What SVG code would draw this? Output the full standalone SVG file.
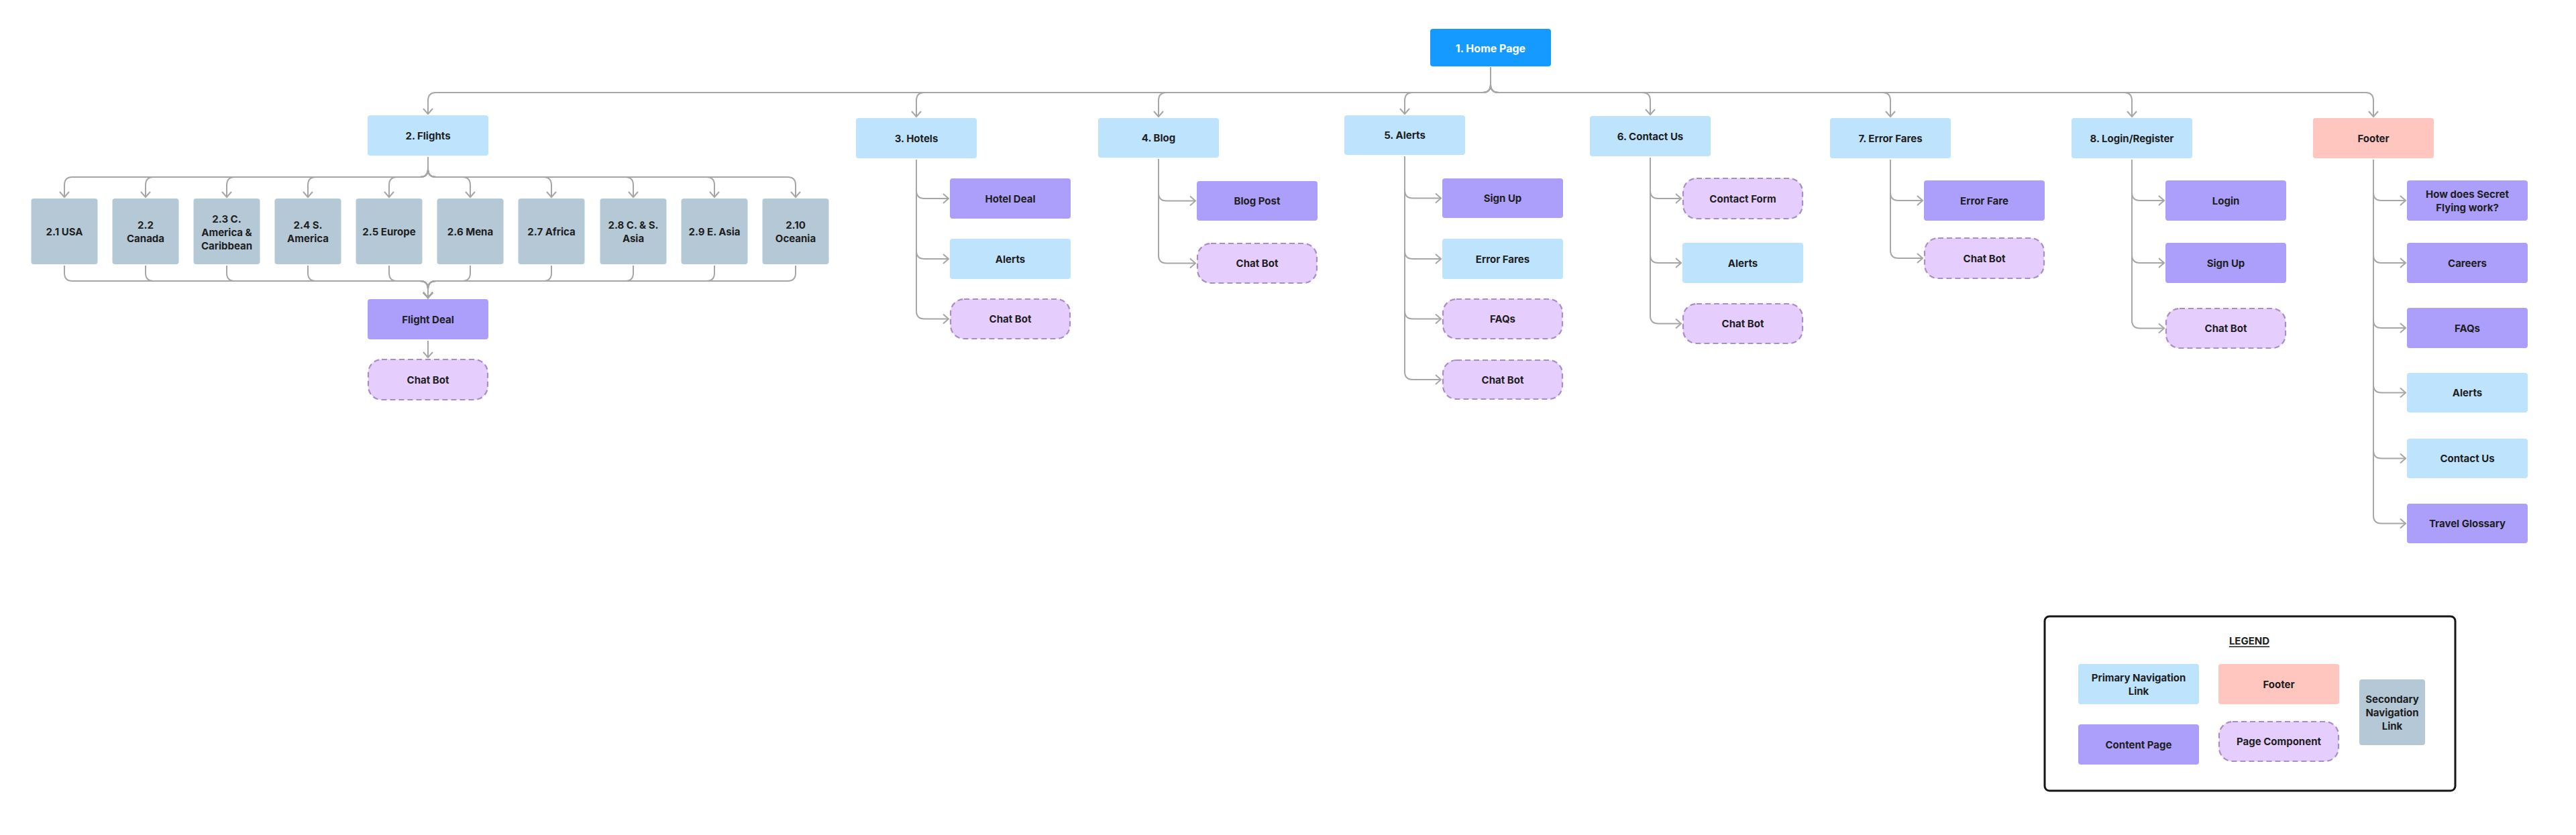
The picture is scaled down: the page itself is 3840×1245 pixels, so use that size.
<svg xmlns="http://www.w3.org/2000/svg" width="3840" height="1245" viewBox="0 0 3840 1245">
<defs>
<style>
.t{font-family:Inter,"Noto Sans","Liberation Sans",sans-serif;font-weight:700;font-size:15px;fill:#1e1e1e;text-anchor:middle;dominant-baseline:central}
.home rect{fill:#159bff}
.home text{fill:#ffffff;font-size:16px}
.pri rect{fill:#bde3fd}
.con rect{fill:#ab9ffb}
.cmp rect{fill:#e5cdfd;stroke:#a98dc6;stroke-width:2.2;stroke-dasharray:8 5}
.foo rect{fill:#ffc6c0}
.sec rect{fill:#b4c8d6}
.c path{fill:none;stroke:#a6a6a6;stroke-width:2;marker-end:url(#ah)}
</style>
<marker id="ah" markerUnits="userSpaceOnUse" markerWidth="20" markerHeight="20" refX="10" refY="10" orient="auto" viewBox="0 0 20 20">
<path d="M2,3 L10,10 L2,17" fill="none" stroke="#a6a6a6" stroke-width="2"/>
</marker>
</defs>
<rect width="3840" height="1245" fill="#ffffff"/>

<g class="c" id="connectors">
<!-- Home to top level -->
<path d="M2222,100 V126 Q2222,138 2210,138 H650 Q638,138 638,150 V170"/>
<path d="M2222,100 V126 Q2222,138 2210,138 H1378 Q1366,138 1366,150 V174"/>
<path d="M2222,100 V126 Q2222,138 2210,138 H1739 Q1727,138 1727,150 V174"/>
<path d="M2222,100 V126 Q2222,138 2210,138 H2106 Q2094,138 2094,150 V170"/>
<path d="M2222,100 V126 Q2222,138 2234,138 H2448 Q2460,138 2460,150 V171"/>
<path d="M2222,100 V126 Q2222,138 2234,138 H2806 Q2818,138 2818,150 V174"/>
<path d="M2222,100 V126 Q2222,138 2234,138 H3166 Q3178,138 3178,150 V174"/>
<path d="M2222,100 V126 Q2222,138 2234,138 H3526 Q3538,138 3538,150 V174"/>
<!-- Flights to regions -->
<path d="M638,234 V252 Q638,264 626,264 H108 Q96,264 96,276 V294"/>
<path d="M638,234 V252 Q638,264 626,264 H229 Q217,264 217,276 V294"/>
<path d="M638,234 V252 Q638,264 626,264 H350 Q338,264 338,276 V294"/>
<path d="M638,234 V252 Q638,264 626,264 H471 Q459,264 459,276 V294"/>
<path d="M638,234 V252 Q638,264 626,264 H592 Q580,264 580,276 V294"/>
<path d="M638,234 V252 Q638,264 650,264 H689 Q701,264 701,276 V294"/>
<path d="M638,234 V252 Q638,264 650,264 H810 Q822,264 822,276 V294"/>
<path d="M638,234 V252 Q638,264 650,264 H932 Q944,264 944,276 V294"/>
<path d="M638,234 V252 Q638,264 650,264 H1053 Q1065,264 1065,276 V294"/>
<path d="M638,234 V252 Q638,264 650,264 H1174 Q1186,264 1186,276 V294"/>
<!-- regions to Flight Deal -->
<path d="M96,396 V407 Q96,419 108,419 H626 Q638,419 638,431 V444"/>
<path d="M217,396 V407 Q217,419 229,419 H626 Q638,419 638,431 V444"/>
<path d="M338,396 V407 Q338,419 350,419 H626 Q638,419 638,431 V444"/>
<path d="M459,396 V407 Q459,419 471,419 H626 Q638,419 638,431 V444"/>
<path d="M580,396 V407 Q580,419 592,419 H626 Q638,419 638,431 V444"/>
<path d="M701,396 V407 Q701,419 689,419 H650 Q638,419 638,431 V444"/>
<path d="M822,396 V407 Q822,419 810,419 H650 Q638,419 638,431 V444"/>
<path d="M944,396 V407 Q944,419 932,419 H650 Q638,419 638,431 V444"/>
<path d="M1065,396 V407 Q1065,419 1053,419 H650 Q638,419 638,431 V444"/>
<path d="M1186,396 V407 Q1186,419 1174,419 H650 Q638,419 638,431 V444"/>
<path d="M638,508 V533"/>
<!-- Hotels -->
<path d="M1366,238 V284 Q1366,296 1378,296 H1414"/>
<path d="M1366,238 V374 Q1366,386 1378,386 H1414"/>
<path d="M1366,238 V463.5 Q1366,475.5 1378,475.5 H1414"/>
<!-- Blog -->
<path d="M1727,237 V287.5 Q1727,299.5 1739,299.5 H1782"/>
<path d="M1727,237 V380.5 Q1727,392.5 1739,392.5 H1782"/>
<!-- Alerts -->
<path d="M2094,233 V283.5 Q2094,295.5 2106,295.5 H2148"/>
<path d="M2094,233 V374 Q2094,386 2106,386 H2148"/>
<path d="M2094,233 V463.5 Q2094,475.5 2106,475.5 H2148"/>
<path d="M2094,233 V554 Q2094,566 2106,566 H2148"/>
<!-- Contact Us -->
<path d="M2460,235 V284 Q2460,296 2472,296 H2506"/>
<path d="M2460,235 V380 Q2460,392 2472,392 H2506"/>
<path d="M2460,235 V470.5 Q2460,482.5 2472,482.5 H2506"/>
<!-- Error Fares -->
<path d="M2818,238 V287 Q2818,299 2830,299 H2866"/>
<path d="M2818,238 V373 Q2818,385 2830,385 H2866"/>
<!-- Login -->
<path d="M3178,238 V287 Q3178,299 3190,299 H3226"/>
<path d="M3178,238 V380 Q3178,392 3190,392 H3226"/>
<path d="M3178,238 V477.5 Q3178,489.5 3190,489.5 H3226"/>
<!-- Footer -->
<path d="M3538,238 V287 Q3538,299 3550,299 H3586"/>
<path d="M3538,238 V380 Q3538,392 3550,392 H3586"/>
<path d="M3538,238 V477 Q3538,489 3550,489 H3586"/>
<path d="M3538,238 V573.5 Q3538,585.5 3550,585.5 H3586"/>
<path d="M3538,238 V671.5 Q3538,683.5 3550,683.5 H3586"/>
<path d="M3538,238 V768.5 Q3538,780.5 3550,780.5 H3586"/>
</g>

<g id="home" class="home"><rect x="2132" y="43" width="180" height="56" rx="4"/><text class="t" x="2222" y="72">1. Home Page</text></g>

<g id="flights" class="pri"><rect x="548" y="172" width="180" height="60" rx="4"/><text class="t" x="638" y="202">2. Flights</text></g>
<g id="r21" class="sec"><rect x="46.5" y="296" width="99" height="98" rx="4"/><text class="t" x="96" y="345">2.1 USA</text></g>
<g id="r22" class="sec"><rect x="167.5" y="296" width="99" height="98" rx="4"/><text class="t" x="217" y="335">2.2</text><text class="t" x="217" y="355">Canada</text></g>
<g id="r23" class="sec"><rect x="288.5" y="296" width="99" height="98" rx="4"/><text class="t" x="338" y="326">2.3 C.</text><text class="t" x="338" y="346">America &amp;</text><text class="t" x="338" y="366">Caribbean</text></g>
<g id="r24" class="sec"><rect x="409.5" y="296" width="99" height="98" rx="4"/><text class="t" x="459" y="335">2.4 S.</text><text class="t" x="459" y="355">America</text></g>
<g id="r25" class="sec"><rect x="530.5" y="296" width="99" height="98" rx="4"/><text class="t" x="580" y="345">2.5 Europe</text></g>
<g id="r26" class="sec"><rect x="651.5" y="296" width="99" height="98" rx="4"/><text class="t" x="701" y="345">2.6 Mena</text></g>
<g id="r27" class="sec"><rect x="772.5" y="296" width="99" height="98" rx="4"/><text class="t" x="822" y="345">2.7 Africa</text></g>
<g id="r28" class="sec"><rect x="894.5" y="296" width="99" height="98" rx="4"/><text class="t" x="944" y="335">2.8 C. &amp; S.</text><text class="t" x="944" y="355">Asia</text></g>
<g id="r29" class="sec"><rect x="1015.5" y="296" width="99" height="98" rx="4"/><text class="t" x="1065" y="345">2.9 E. Asia</text></g>
<g id="r210" class="sec"><rect x="1136.5" y="296" width="99" height="98" rx="4"/><text class="t" x="1186" y="335">2.10</text><text class="t" x="1186" y="355">Oceania</text></g>
<g id="flightdeal" class="con"><rect x="548" y="446" width="180" height="60" rx="4"/><text class="t" x="638" y="476">Flight Deal</text></g>
<g id="flightchat" class="cmp"><rect x="549" y="536" width="178" height="60" rx="20"/><text class="t" x="638" y="566">Chat Bot</text></g>

<g id="hotels" class="pri"><rect x="1276" y="176" width="180" height="60" rx="4"/><text class="t" x="1366" y="206">3. Hotels</text></g>
<g id="hoteldeal" class="con"><rect x="1416" y="266" width="180" height="60" rx="4"/><text class="t" x="1506" y="296">Hotel Deal</text></g>
<g id="hotelalerts" class="pri"><rect x="1416" y="356" width="180" height="60" rx="4"/><text class="t" x="1506" y="386">Alerts</text></g>
<g id="hotelchat" class="cmp"><rect x="1417" y="446" width="178" height="59" rx="20"/><text class="t" x="1506" y="475.5">Chat Bot</text></g>

<g id="blog" class="pri"><rect x="1637" y="176" width="180" height="59" rx="4"/><text class="t" x="1727" y="205.5">4. Blog</text></g>
<g id="blogpost" class="con"><rect x="1784" y="270" width="180" height="59" rx="4"/><text class="t" x="1874" y="299.5">Blog Post</text></g>
<g id="blogchat" class="cmp"><rect x="1785" y="363" width="178" height="59" rx="20"/><text class="t" x="1874" y="392.5">Chat Bot</text></g>

<g id="alerts" class="pri"><rect x="2004" y="172" width="180" height="59" rx="4"/><text class="t" x="2094" y="201.5">5. Alerts</text></g>
<g id="signup" class="con"><rect x="2150" y="266" width="180" height="59" rx="4"/><text class="t" x="2240" y="295.5">Sign Up</text></g>
<g id="errorfares2" class="pri"><rect x="2150" y="356" width="180" height="60" rx="4"/><text class="t" x="2240" y="386">Error Fares</text></g>
<g id="faqs1" class="cmp"><rect x="2151" y="446" width="178" height="59" rx="20"/><text class="t" x="2240" y="475.5">FAQs</text></g>
<g id="alertschat" class="cmp"><rect x="2151" y="537" width="178" height="58" rx="20"/><text class="t" x="2240" y="566">Chat Bot</text></g>

<g id="contact" class="pri"><rect x="2370" y="173" width="180" height="60" rx="4"/><text class="t" x="2460" y="203">6. Contact Us</text></g>
<g id="contactform" class="cmp"><rect x="2509" y="266" width="178" height="60" rx="20"/><text class="t" x="2598" y="296">Contact Form</text></g>
<g id="contactalerts" class="pri"><rect x="2508" y="362" width="180" height="60" rx="4"/><text class="t" x="2598" y="392">Alerts</text></g>
<g id="contactchat" class="cmp"><rect x="2509" y="453" width="178" height="59" rx="20"/><text class="t" x="2598" y="482.5">Chat Bot</text></g>

<g id="errorfares" class="pri"><rect x="2728" y="176" width="180" height="60" rx="4"/><text class="t" x="2818" y="206">7. Error Fares</text></g>
<g id="errorfare" class="con"><rect x="2868" y="269" width="180" height="60" rx="4"/><text class="t" x="2958" y="299">Error Fare</text></g>
<g id="errorchat" class="cmp"><rect x="2869" y="355" width="178" height="60" rx="20"/><text class="t" x="2958" y="385">Chat Bot</text></g>

<g id="login" class="pri"><rect x="3088" y="176" width="180" height="60" rx="4"/><text class="t" x="3178" y="206">8. Login/Register</text></g>
<g id="loginpage" class="con"><rect x="3228" y="269" width="180" height="60" rx="4"/><text class="t" x="3318" y="299">Login</text></g>
<g id="signup2" class="con"><rect x="3228" y="362" width="180" height="60" rx="4"/><text class="t" x="3318" y="392">Sign Up</text></g>
<g id="loginchat" class="cmp"><rect x="3229" y="460" width="178" height="59" rx="20"/><text class="t" x="3318" y="489.5">Chat Bot</text></g>

<g id="footer" class="foo"><rect x="3448" y="176" width="180" height="60" rx="4"/><text class="t" x="3538" y="206">Footer</text></g>
<g id="howdoes" class="con"><rect x="3588" y="269" width="180" height="60" rx="4"/><text class="t" x="3678" y="289">How does Secret</text><text class="t" x="3678" y="309">Flying work?</text></g>
<g id="careers" class="con"><rect x="3588" y="362" width="180" height="60" rx="4"/><text class="t" x="3678" y="392">Careers</text></g>
<g id="faqs2" class="con"><rect x="3588" y="459" width="180" height="60" rx="4"/><text class="t" x="3678" y="489">FAQs</text></g>
<g id="footalerts" class="pri"><rect x="3588" y="556" width="180" height="59" rx="4"/><text class="t" x="3678" y="585.5">Alerts</text></g>
<g id="footcontact" class="pri"><rect x="3588" y="654" width="180" height="59" rx="4"/><text class="t" x="3678" y="683.5">Contact Us</text></g>
<g id="glossary" class="con"><rect x="3588" y="751" width="180" height="59" rx="4"/><text class="t" x="3678" y="780.5">Travel Glossary</text></g>

<g id="legend">
<rect x="3048" y="919" width="612" height="260" rx="7" fill="#ffffff" stroke="#161616" stroke-width="3"/>
<text class="t" x="3353" y="955" text-decoration="underline">LEGEND</text>
<g id="lg-primary" class="pri"><rect x="3098" y="990" width="180" height="60" rx="4"/><text class="t" x="3188" y="1010">Primary Navigation</text><text class="t" x="3188" y="1030">Link</text></g>
<g id="lg-footer" class="foo"><rect x="3307" y="990" width="180" height="60" rx="4"/><text class="t" x="3397" y="1020">Footer</text></g>
<g id="lg-secondary" class="sec"><rect x="3517" y="1013" width="98" height="98" rx="4"/><text class="t" x="3566" y="1042">Secondary</text><text class="t" x="3566" y="1062">Navigation</text><text class="t" x="3566" y="1082">Link</text></g>
<g id="lg-content" class="con"><rect x="3098" y="1080" width="180" height="60" rx="4"/><text class="t" x="3188" y="1110">Content Page</text></g>
<g id="lg-comp" class="cmp"><rect x="3308" y="1076" width="178" height="59" rx="20"/><text class="t" x="3397" y="1105.5">Page Component</text></g>
</g>
</svg>
